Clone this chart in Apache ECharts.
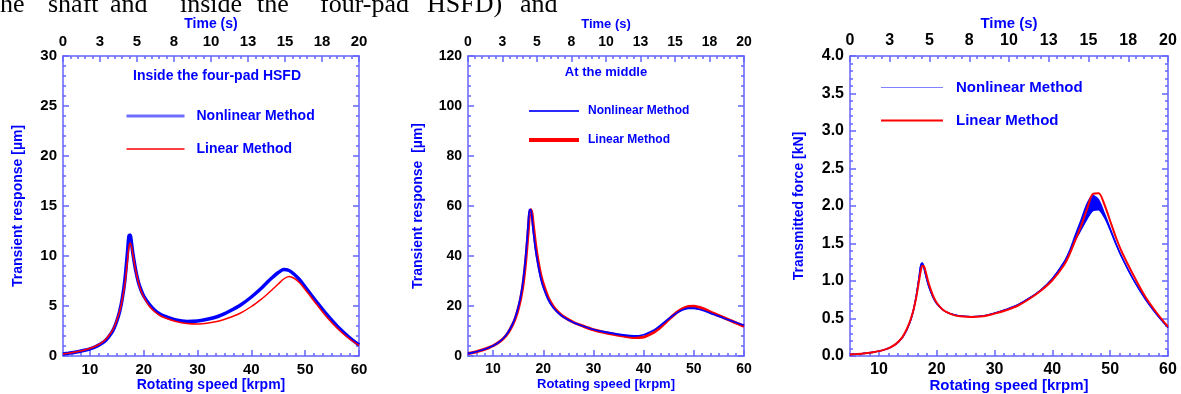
<!DOCTYPE html>
<html>
<head>
<meta charset="utf-8">
<script src="https://cdn.jsdelivr.net/npm/echarts@6/dist/echarts.min.js"></script>
<style>
html, body { margin: 0; padding: 0; background: #fff; }
#chart { width: 1181px; height: 394px; }
</style>
</head>
<body>
<div id="chart"></div>
<script>
// rotating speed [krpm]
const speed = [5, 6, 7, 8, 9, 10, 11, 12, 13, 14, 14.5, 15, 15.5, 16, 16.5, 17, 17.25, 17.5, 17.75, 18,
  18.5, 19, 19.5, 20, 21, 22, 23, 24, 26, 28, 30, 32, 34, 36, 38, 40, 42, 43, 44, 45,
  46, 47, 48, 49, 50, 51, 52, 54, 56, 58, 60];
const speedTicks = [10, 20, 30, 40, 50, 60];

// inside the four-pad HSFD [um]
const p1Nonlinear = [0.2, 0.27, 0.35, 0.45, 0.57, 0.72, 0.92, 1.2, 1.6, 2.3, 2.8, 3.5, 4.4, 5.7, 7.6, 10.5, 12.0, 12.1, 11.2, 10.2,
  8.6, 7.4, 6.6, 6.0, 5.2, 4.6, 4.2, 3.95, 3.6, 3.45, 3.5, 3.7, 4.0, 4.5, 5.1, 5.9, 6.85, 7.4, 7.9, 8.35,
  8.65, 8.55, 8.15, 7.6, 6.9, 6.2, 5.5, 4.15, 2.95, 1.95, 1.1];
const p1Linear = [0.2, 0.28, 0.37, 0.48, 0.6, 0.77, 0.98, 1.27, 1.7, 2.4, 2.9, 3.6, 4.4, 5.6, 7.2, 9.6, 10.9, 11.3, 10.9, 10.1,
  8.6, 7.4, 6.5, 5.9, 5.0, 4.45, 4.05, 3.8, 3.45, 3.25, 3.2, 3.3, 3.5, 3.85, 4.3, 4.95, 5.75, 6.2, 6.7, 7.2,
  7.7, 7.95, 7.75, 7.3, 6.65, 5.95, 5.25, 3.9, 2.75, 1.8, 1.05];

// at the middle [um]
const p2Nonlinear = [1.0, 1.4, 1.9, 2.5, 3.2, 4.1, 5.3, 7.0, 9.5, 13.3, 16.0, 19.5, 24, 30.5, 40, 53, 58.5, 58.5, 55, 50,
  42, 36, 31, 27.5, 22.5, 19.3, 17.2, 15.6, 13.4, 11.9, 10.6, 9.7, 9.0, 8.4, 8.0, 8.5, 10.3, 11.7, 13.3, 14.9,
  16.4, 17.7, 18.6, 19.1, 19.1, 18.7, 18.1, 16.6, 15.1, 13.7, 12.3];
const p2Linear = [1.0, 1.4, 1.9, 2.5, 3.2, 4.1, 5.3, 6.9, 9.3, 13.0, 15.5, 18.8, 23, 29, 38, 50, 56.5, 58.5, 57, 52.5,
  44, 37.5, 32.5, 28.8, 23.3, 19.8, 17.5, 15.8, 13.5, 11.9, 10.5, 9.5, 8.7, 8.0, 7.4, 7.6, 9.4, 10.9, 12.7, 14.6,
  16.4, 18.0, 19.2, 19.8, 19.9, 19.5, 18.8, 17.0, 15.3, 13.6, 11.9];

// transmitted force [kN]; the nonlinear result spreads into a band near 47 krpm
const p3NonlinearLower = [0.02, 0.025, 0.03, 0.04, 0.05, 0.065, 0.085, 0.115, 0.16, 0.24, 0.3, 0.38, 0.48, 0.62, 0.82, 1.08, 1.21, 1.24, 1.19, 1.11,
  0.96, 0.85, 0.76, 0.7, 0.62, 0.575, 0.55, 0.535, 0.525, 0.535, 0.57, 0.62, 0.68, 0.77, 0.88, 1.03, 1.24, 1.37, 1.55, 1.69,
  1.83, 1.94, 1.95, 1.85, 1.68, 1.49, 1.32, 1.02, 0.77, 0.56, 0.38];
const p3NonlinearUpper = [0.02, 0.025, 0.03, 0.04, 0.05, 0.065, 0.085, 0.115, 0.16, 0.24, 0.3, 0.38, 0.48, 0.62, 0.82, 1.08, 1.21, 1.24, 1.19, 1.11,
  0.96, 0.85, 0.76, 0.7, 0.62, 0.575, 0.55, 0.535, 0.525, 0.535, 0.57, 0.62, 0.68, 0.77, 0.88, 1.03, 1.25, 1.41, 1.62, 1.82,
  2.03, 2.14, 2.08, 1.9, 1.7, 1.5, 1.32, 1.02, 0.77, 0.56, 0.38];
const p3Linear = [0.02, 0.025, 0.03, 0.04, 0.05, 0.065, 0.085, 0.115, 0.165, 0.245, 0.31, 0.39, 0.49, 0.62, 0.8, 1.03, 1.14, 1.2, 1.2, 1.15,
  1.0, 0.88, 0.78, 0.71, 0.62, 0.575, 0.545, 0.53, 0.52, 0.53, 0.565, 0.61, 0.67, 0.76, 0.87, 1.01, 1.21, 1.36, 1.55, 1.74,
  1.96, 2.16, 2.17, 2.02, 1.8, 1.58, 1.39, 1.08, 0.8, 0.58, 0.39];

const AXIS = '#6464ff';
const BLUE = '#0000ff';
const RED = '#ff0000';
const FONT = '"Liberation Sans", Arial, sans-serif';

const pts = arr => speed.map((s, k) => [s, arr[k]]);

const panels = [
  {left: 63, width: 296, yMax: 30, yStep: 5, yName: 'Transient response [µm]', yGap: 38,
    tick: 15, nameSize: 14, fmt: v => String(v),
    legLeft: 120, legTop: 104, legW: 58, legGap: 19, legFont: 14, legPad: 7,
    legBlue: {color: '#6f6fff', width: 3, opacity: 1}, legRed: {color: RED, width: 1.5, opacity: 1}},
  {left: 468, width: 276, yMax: 120, yStep: 20, yName: 'Transient response  [µm]', yGap: 43,
    tick: 14, nameSize: 13, fmt: v => String(v),
    legLeft: 522, legTop: 100, legW: 50, legGap: 17, legFont: 12, legPad: 4,
    legBlue: {color: '#2a2aff', width: 2, opacity: 1}, legRed: {color: RED, width: 4, opacity: 1}},
  {left: 850, width: 318, yMax: 4, yStep: 0.5, yName: 'Transmitted force [kN]', yGap: 44,
    tick: 16, nameSize: 15, fmt: v => v.toFixed(1),
    legLeft: 875, legTop: 75, legW: 62, legGap: 18, legFont: 15, legPad: 8,
    legBlue: {color: '#7f7fff', width: 1.2, opacity: 1}, legRed: {color: RED, width: 2, opacity: 1}}
];

const grid = [], xAxis = [], yAxis = [], legend = [];
const axisLine = {show: true, onZero: false, lineStyle: {color: AXIS, width: 1.5}};
const tickLine = {color: AXIS, width: 1.5};
const noSymbol = {color: 'rgba(0,0,0,0)', borderWidth: 0, opacity: 0};

panels.forEach((p, i) => {
  const nameStyle = {color: BLUE, fontWeight: 'bold', fontSize: p.nameSize, fontFamily: FONT};
  const labelStyle = {color: '#000', fontWeight: 'bold', fontSize: p.tick, fontFamily: FONT};
  grid.push({left: p.left, top: 56, width: p.width, height: 300, outerBoundsMode: 'none'});

  // bottom: speed axis, long ticks every 10
  xAxis.push({
    type: 'value', gridIndex: i, position: 'bottom', min: 5, max: 60, interval: 5,
    axisLine: axisLine,
    axisTick: {show: true, inside: true, length: 6, customValues: speedTicks, lineStyle: tickLine},
    axisLabel: Object.assign({customValues: speedTicks, margin: 6}, labelStyle),
    splitLine: {show: false},
    name: 'Rotating speed [krpm]', nameLocation: 'middle', nameGap: 22, nameMoveOverlap: false,
    nameTextStyle: nameStyle
  });
  // bottom: short ticks
  xAxis.push({
    type: 'value', gridIndex: i, position: 'bottom', min: 5, max: 60, interval: 5 / 3,
    axisLine: {show: false},
    axisTick: {show: true, inside: true, length: 3, lineStyle: tickLine},
    axisLabel: {show: false}, splitLine: {show: false}
  });
  // top: time axis
  xAxis.push({
    type: 'value', gridIndex: i, position: 'top', min: 0, max: 20, interval: 2.5,
    axisLine: axisLine,
    axisTick: {show: true, inside: true, length: 6, lineStyle: tickLine},
    minorTick: {show: true, splitNumber: 5, length: 3, lineStyle: tickLine},
    axisLabel: Object.assign({formatter: v => String(Math.round(v)), margin: 7}, labelStyle),
    splitLine: {show: false},
    name: 'Time (s)', nameLocation: 'middle', nameGap: 25, nameMoveOverlap: false,
    nameTextStyle: nameStyle
  });

  const yBase = {
    type: 'value', gridIndex: i, min: 0, max: p.yMax, interval: p.yStep,
    axisLine: axisLine,
    axisTick: {show: true, inside: true, length: 6, lineStyle: tickLine},
    minorTick: {show: true, splitNumber: 5, length: 3, lineStyle: tickLine},
    splitLine: {show: false}
  };
  yAxis.push(Object.assign({}, yBase, {
    position: 'left',
    axisLabel: Object.assign({formatter: p.fmt, margin: 6}, labelStyle),
    name: p.yName, nameLocation: 'middle', nameRotate: 90, nameGap: p.yGap,
    nameTextStyle: Object.assign({}, nameStyle, {fontSize: 14})
  }));
  yAxis.push(Object.assign({}, yBase, {position: 'right', axisLabel: {show: false}}));

  legend.push({
    left: p.legLeft, top: p.legTop, orient: 'vertical', itemWidth: p.legW, itemHeight: 14, itemGap: p.legGap,
    selectedMode: false,
    data: [
      {name: 'Nonlinear Method', lineStyle: p.legBlue, itemStyle: noSymbol},
      {name: 'Linear Method', lineStyle: p.legRed, itemStyle: noSymbol}
    ],
    textStyle: {color: BLUE, fontWeight: 'bold', fontSize: p.legFont, fontFamily: FONT, padding: [0, 0, 0, p.legPad]}
  });
});

const line = (name, xi, yi, data, color, width) => ({
  name: name, type: 'line', xAxisIndex: xi, yAxisIndex: yi, data: pts(data),
  symbol: 'none', smooth: 0.3,
  lineStyle: {color: color, width: width}, itemStyle: {color: color},
  emphasis: {disabled: true}, silent: true, z: 3
});

// filled spread between the two nonlinear envelopes (panel 3)
const band = {
  name: 'Nonlinear spread', type: 'custom', xAxisIndex: 6, yAxisIndex: 4, silent: true, z: 2,
  data: [[speed[0], p3NonlinearLower[0]]],
  renderItem: (params, api) => {
    const idx = speed.map((s, k) => k).filter(k => p3NonlinearUpper[k] > p3NonlinearLower[k]);
    const a = idx[0] - 1, b = idx[idx.length - 1] + 1;
    const top = [], bot = [];
    for (let k = a; k <= b; k++) {
      top.push(api.coord([speed[k], p3NonlinearUpper[k]]));
      bot.unshift(api.coord([speed[k], p3NonlinearLower[k]]));
    }
    return {type: 'polygon', shape: {points: top.concat(bot)}, style: {fill: BLUE}};
  }
};

const series = [
  line('Nonlinear Method', 0, 0, p1Nonlinear, BLUE, 3.5),
  line('Linear Method', 0, 0, p1Linear, RED, 1.5),
  line('Linear Method', 3, 2, p2Linear, RED, 3),
  line('Nonlinear Method', 3, 2, p2Nonlinear, BLUE, 1.8),
  band,
  line('Nonlinear Method', 6, 4, p3NonlinearLower, BLUE, 1.5),
  line('Nonlinear Method', 6, 4, p3NonlinearUpper, BLUE, 1.5),
  line('Linear Method', 6, 4, p3Linear, RED, 2)
];

// cropped line of body text above the figure
const words = [['he', 0], ['shaft', 48], ['and', 110], ['inside', 180], ['the', 257],
  ['four-pad', 320], ['HSFD)', 427], ['and', 520]];
const graphic = words.map(w => ({
  type: 'text', x: w[1], y: 18, silent: true,
  style: {text: w[0], fill: '#000', font: '26px "Liberation Serif", "Times New Roman", serif',
    align: 'left', verticalAlign: 'bottom'}
}));
graphic.push(
  {type: 'text', x: 217, y: 76, silent: true,
    style: {text: 'Inside the four-pad HSFD', fill: BLUE, font: 'bold 14px ' + FONT, align: 'center', verticalAlign: 'middle'}},
  {type: 'text', x: 606, y: 72, silent: true,
    style: {text: 'At the middle', fill: BLUE, font: 'bold 13px ' + FONT, align: 'center', verticalAlign: 'middle'}}
);

const chart = echarts.init(document.getElementById('chart'), null, {renderer: 'canvas'});
chart.setOption({
  animation: false,
  backgroundColor: '#fff',
  grid: grid,
  xAxis: xAxis,
  yAxis: yAxis,
  legend: legend,
  series: series,
  graphic: graphic
});
</script>
</body>
</html>
